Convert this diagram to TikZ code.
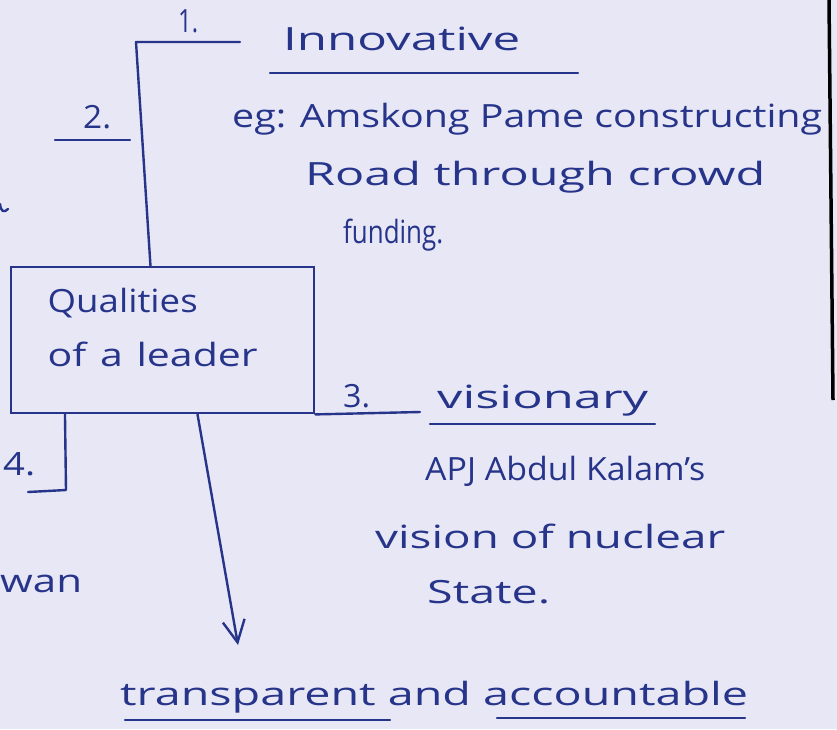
\documentclass[tikz,border=0pt]{standalone}
\usepackage{fontspec}
\setmainfont{Open Sans}
\usetikzlibrary{arrows.meta,calc}
\definecolor{bg}{RGB}{232,231,246}
\definecolor{ink}{RGB}{38,52,138}
\newcommand{\hw}[2]{\resizebox{#1}{\height}{#2}}
\begin{document}
\begin{tikzpicture}[x=1pt,y=-1pt,
  txt/.style={text=ink,inner sep=0pt,anchor=base west,font=\fontsize{32}{38}\selectfont},
  pen/.style={draw=ink,line width=2.4pt,line cap=round,line join=round},
  boxnode/.style={draw=ink,line width=2.4pt,minimum width=303pt,minimum height=146pt,
    inner sep=0pt,align=left,text width=230pt,text depth=80pt,text=ink,anchor=north west,
    font=\fontsize{32}{54}\selectfont},
  tip/.style={-{Straight Barb[length=22pt,width=22pt,line width=2.4pt]}}
]
\fill[bg] (0,0) rectangle (837,729);
\useasboundingbox (0,0) rectangle (837,729);
% edge of the page
\draw[black,line width=3.5pt] (829,0) -- (833,400);
% box
\node[boxnode] (box) at (10,266) {\hw{150pt}{Qualities}\\\hw{210pt}{of a leader}};
% texts
\node[txt] (n1) at (178,32) {\hw{20pt}{1.}};
\node[txt] (inn) at (283,50) {\hw{237pt}{Innovative}};
\node[txt] (n2) at (83,128) {\hw{28pt}{2.}};
\node[txt] (eg) at (232,127) {\hw{590pt}{eg: Amskong Pame constructing}};
\node[txt] (road) at (305,185) {\hw{460pt}{Road through crowd}};
\node[txt] (fund) at (343,243) {\hw{100pt}{funding.}};
\node[txt] (n3) at (343,407) {\hw{27pt}{3.}};
\node[txt] (vis) at (437,408) {\hw{211pt}{visionary}};
\node[txt] (apj) at (425,480) {\hw{280pt}{APJ Abdul Kalam's}};
\node[txt] (von) at (375,548) {\hw{350pt}{vision of nuclear}};
\node[txt] (state) at (427,603) {\hw{123pt}{State.}};
\node[txt] (n4) at (3,475) {\hw{32pt}{4.}};
\node[txt] (wan) at (0,592) {\hw{82pt}{wan}};
\node[txt] (ta) at (120,705) {\hw{628pt}{transparent and accountable}};
% coordinates
\coordinate (c1a) at (240,42);
\coordinate (c1b) at (136,42);
\coordinate (u2a) at (55,140);
\coordinate (u2b) at (130,140);
\coordinate (uia) at (270,73);
\coordinate (uib) at (578,73);
\coordinate (c3) at (420,412);
\coordinate (uva) at (430,424);
\coordinate (uvb) at (655,424);
\coordinate (c4a) at (66,490);
\coordinate (c4b) at (28,492);
\coordinate (arr) at (238,645);
\coordinate (uta) at (125,720);
\coordinate (utb) at (390,720);
\coordinate (uaa) at (497,718);
\coordinate (uab) at (745,718);
% connectors
\draw[pen] (c1a) -- (c1b) -- ($(box.north west)!0.46!(box.north east)$);
\draw[pen] (u2a) -- (u2b);
\draw[pen] (uia) -- (uib);
\draw[pen] (box.south east) -- (c3);
\draw[pen] (uva) -- (uvb);
\draw[pen] ($(box.south west)!0.18!(box.south east)$) -- (c4a) -- (c4b);
\draw[pen,tip] ($(box.south west)!0.614!(box.south east)$) -- (arr);
\draw[pen] (uta) -- (utb);
\draw[pen] (uaa) -- (uab);
% fragment at left edge
\draw[pen] (0,204) .. controls (1,212) and (4,213) .. (8,209);
\end{tikzpicture}
\end{document}
